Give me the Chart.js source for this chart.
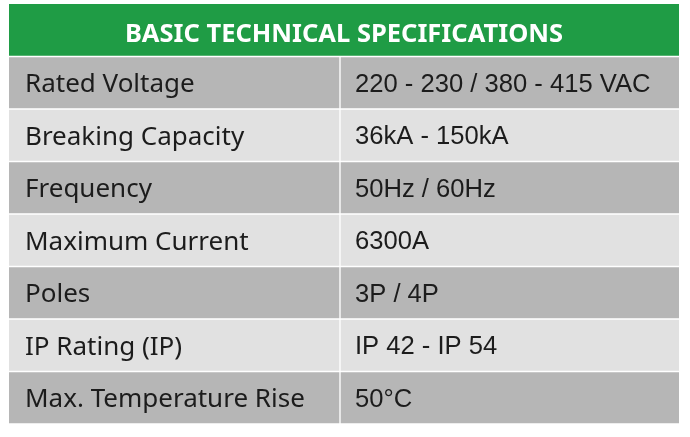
<!DOCTYPE html>
<html>
<head>
<meta charset="utf-8">
<script src="https://cdn.jsdelivr.net/npm/chart.js@4"></script>
<style>
  html, body { margin: 0; padding: 0; background: #ffffff; }
  #wrap { width: 690px; height: 437px; }
</style>
</head>
<body>
<div id="wrap"><canvas id="specChart" width="690" height="437"></canvas></div>
<script>
// datos de la tabla
const headerTitle = 'BASIC TECHNICAL SPECIFICATIONS';
const specNames = [
  'Rated Voltage',
  'Breaking Capacity',
  'Frequency',
  'Maximum Current',
  'Poles',
  'IP Rating (IP)',
  'Max. Temperature Rise',
];
const specValues = [
  '220 - 230 / 380 - 415 VAC',
  '36kA - 150kA',
  '50Hz / 60Hz',
  '6300A',
  '3P / 4P',
  'IP 42 - IP 54',
  '50°C',
];

// filas: cabecera + especificaciones
const rowKeys = ['header', ...specNames.map((_, i) => 'r' + i)];

// límites de columnas en el eje x (0..100)
const SPLIT = 49.4;
const DARK = '#b6b6b6';
const LIGHT = '#e1e1e1';
const GREEN = '#1f9c45';

const shade = (i) => (i % 2 === 0 ? DARK : LIGHT);

const headerData = rowKeys.map((k) => (k === 'header' ? [0, 100] : null));
const leftData = rowKeys.map((k) => (k === 'header' ? null : [0, SPLIT]));
const rightData = rowKeys.map((k) => (k === 'header' ? null : [SPLIT, 100]));

// plugin para escribir los textos de cada celda
const cellText = {
  id: 'cellText',
  afterDatasetsDraw(chart) {
    const { ctx, scales } = chart;
    const x = scales.x;
    const y = scales.y;
    ctx.save();
    ctx.textBaseline = 'middle';

    // cabecera
    ctx.fillStyle = '#ffffff';
    ctx.textAlign = 'center';
    ctx.font = 'bold 25.5px "Noto Sans", sans-serif';
    ctx.fillText(headerTitle, x.getPixelForValue(50), y.getPixelForValue(0) + 4);

    ctx.fillStyle = '#1c1c1c';
    ctx.textAlign = 'left';
    specNames.forEach((name, i) => {
      const cy = y.getPixelForValue(i + 1) + 2;
      ctx.font = '26px "Noto Sans", sans-serif';
      ctx.fillText(name, x.getPixelForValue(0) + 16, cy);
      ctx.font = '25.6px "Liberation Sans", Arial, sans-serif';
      ctx.fillText(specValues[i], x.getPixelForValue(SPLIT) + 15, cy);
    });
    ctx.restore();
  },
};

new Chart(document.getElementById('specChart'), {
  type: 'bar',
  data: {
    labels: rowKeys,
    datasets: [
      {
        label: 'header',
        data: headerData,
        backgroundColor: GREEN,
        borderColor: '#ffffff',
        borderWidth: { bottom: 1, top: 0, left: 0, right: 0 },
        borderSkipped: false,
        grouped: false,
      },
      {
        label: 'left',
        data: leftData,
        backgroundColor: rowKeys.map((_, i) => shade(i - 1)),
        borderColor: '#ffffff',
        borderWidth: { top: 1, bottom: 1, left: 0, right: 1 },
        borderSkipped: false,
        grouped: false,
      },
      {
        label: 'right',
        data: rightData,
        backgroundColor: rowKeys.map((_, i) => shade(i - 1)),
        borderColor: '#ffffff',
        borderWidth: { top: 1, bottom: 1, left: 1, right: 0 },
        borderSkipped: false,
        grouped: false,
      },
    ],
  },
  options: {
    indexAxis: 'y',
    responsive: false,
    animation: false,
    barPercentage: 1,
    categoryPercentage: 1,
    layout: { padding: { left: 9, right: 11, top: 4, bottom: 13 } },
    plugins: {
      legend: { display: false },
      tooltip: { enabled: false },
    },
    scales: {
      x: { display: false, min: 0, max: 100 },
      y: { display: false },
    },
  },
  plugins: [cellText],
});
</script>
</body>
</html>
